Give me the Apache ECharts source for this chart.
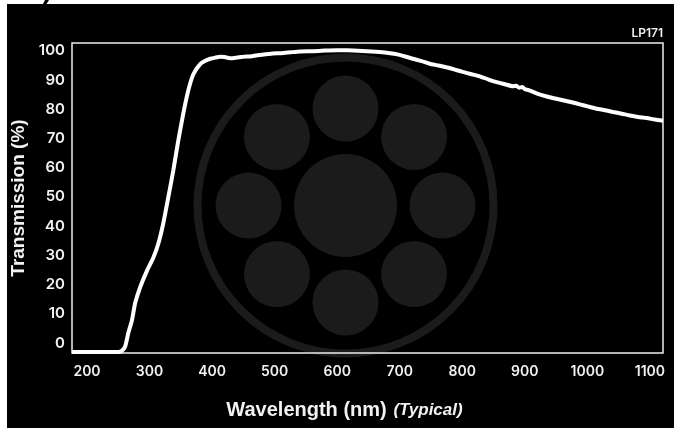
<!DOCTYPE html>
<html>
<head>
<meta charset="utf-8">
<script src="https://cdn.jsdelivr.net/npm/echarts@6/dist/echarts.min.js"></script>
<style>
html,body{margin:0;padding:0;background:#000;}
#c{width:674px;height:428px;}
</style>
</head>
<body>
<div id="c"></div>
<script>
// Wavelength (nm)
const wavelengths = [176, 250, 256, 261, 266, 272, 277, 285, 296, 306, 314, 322, 330, 338, 346, 354, 362, 370, 381, 390, 397, 405, 413, 420, 426, 433, 440, 447, 455, 461, 470, 480, 497, 510, 525, 540, 561, 580, 600, 616, 640, 668, 685, 696, 710, 721, 735, 748, 762, 776, 788, 801, 815, 828, 842, 855, 868, 881, 886, 891, 896, 901, 906, 915, 922, 935, 948, 961, 975, 988, 1002, 1015, 1028, 1041, 1055, 1068, 1081, 1095, 1108, 1121];
// Transmission (%)
const transmission = [-3.1, -3.1, -2.6, -1.2, 3.4, 7.9, 13.7, 19.1, 24.8, 29.2, 34.0, 41.0, 49.9, 59.1, 69.4, 78.6, 86.5, 92.0, 95.5, 96.7, 97.3, 97.7, 98.0, 97.9, 97.6, 97.5, 97.7, 97.9, 98.1, 98.1, 98.4, 98.7, 99.1, 99.2, 99.5, 99.8, 99.9, 100.1, 100.2, 100.2, 100.0, 99.6, 99.2, 98.8, 98.0, 97.3, 96.5, 95.6, 95.0, 94.3, 93.6, 92.8, 92.0, 91.3, 90.2, 89.3, 88.6, 87.9, 88.1, 87.4, 87.6, 86.8, 86.6, 85.8, 85.2, 84.4, 83.7, 83.1, 82.4, 81.7, 80.9, 80.2, 79.7, 79.1, 78.5, 77.9, 77.4, 77.0, 76.5, 76.1];
const xTicks = [200, 300, 400, 500, 600, 700, 800, 900, 1000, 1100];
const yTicks = [0, 10, 20, 30, 40, 50, 60, 70, 80, 90, 100];
const productLabel = 'LP171';

const chart = echarts.init(document.getElementById('c'));
const tickFont = {color: '#f2f2f2', fontFamily: 'Inter', fontWeight: 600, fontSize: 14};
const wmColor = '#1b1b1b';
const cx = 345.5, cy = 205.5;
const small = [];
for (let k = 0; k < 8; k++) {
  const a = k * Math.PI / 4;
  small.push({type: 'circle', silent: true, z: 0,
    shape: {cx: cx + 97 * Math.sin(a), cy: cy - 97 * Math.cos(a), r: 33},
    style: {fill: wmColor}});
}
chart.setOption({
  backgroundColor: '#000',
  animation: false,
  title: {
    text: productLabel, right: 6, top: 22,
    textStyle: {color: '#f2f2f2', fontFamily: 'Inter', fontWeight: 600, fontSize: 12}
  },
  graphic: [
    {type: 'circle', silent: true, z: 0, shape: {cx: cx, cy: cy, r: 148}, style: {fill: 'none', stroke: wmColor, lineWidth: 8}},
    {type: 'circle', silent: true, z: 0, shape: {cx: cx, cy: cy, r: 51.5}, style: {fill: wmColor}},
    ...small,
    {type: 'rect', silent: true, z: 10, shape: {x: 0, y: 0, width: 7, height: 428}, style: {fill: '#fff'}},
    {type: 'rect', silent: true, z: 10, shape: {x: 0, y: 0, width: 674, height: 4}, style: {fill: '#fff'}},
    {type: 'polygon', silent: true, z: 11, shape: {points: [[45, 0], [49, 0], [46.5, 4], [43, 4]]}, style: {fill: '#000'}}
  ],
  grid: {left: 72, top: 43, right: 11, bottom: 75, show: true, borderColor: '#eeeeee', borderWidth: 1.5, backgroundColor: 'transparent', z: 1},
  xAxis: {
    type: 'value', min: 176, max: 1121,
    axisLine: {show: false}, axisTick: {show: false}, splitLine: {show: false},
    axisLabel: Object.assign({customValues: xTicks, margin: 12, formatter: v => String(v)}, tickFont),
    name: '{a|Wavelength (nm)}  {b|(Typical)}',
    nameLocation: 'middle', nameGap: 47,
    nameTextStyle: {
      padding: [0, 46, 0, 0],
      rich: {
        a: {color: '#f2f2f2', fontFamily: 'Liberation Sans', fontWeight: 'bold', fontSize: 20},
        b: {color: '#f2f2f2', fontFamily: 'Liberation Sans', fontWeight: 'bold', fontStyle: 'italic', fontSize: 17}
      }
    }
  },
  yAxis: {
    type: 'value', min: -3.42, max: 102.7,
    axisLine: {show: false}, axisTick: {show: false}, splitLine: {show: false},
    axisLabel: Object.assign({customValues: yTicks, margin: 7, formatter: v => String(v)}, tickFont, {fontSize: 15}),
    name: 'Transmission (%)', nameLocation: 'middle', nameGap: 42,
    nameTextStyle: {color: '#f2f2f2', fontFamily: 'Liberation Sans', fontWeight: 'bold', fontSize: 19}
  },
  series: [{
    type: 'line', showSymbol: false, smooth: 0.2, z: 5,
    lineStyle: {color: '#ffffff', width: 4},
    data: wavelengths.map((w, i) => [w, transmission[i]])
  }]
});
</script>
</body>
</html>
